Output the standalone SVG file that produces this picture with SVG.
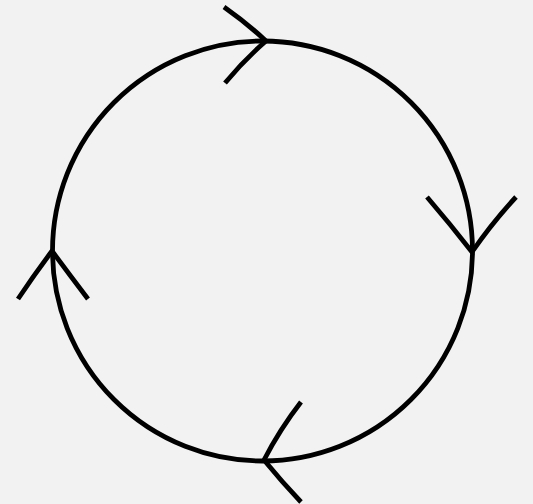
<svg xmlns="http://www.w3.org/2000/svg" width="533" height="504" viewBox="0 0 533 504">
<style>
.s{fill:none;stroke:#000;stroke-width:4.8;stroke-linejoin:round}
</style>
<rect width="533" height="504" fill="#f2f2f2"/>
<g id="cycle">
<circle class="s" cx="262.5" cy="251" r="210"/>
</g>
<g id="connectors">
<path class="s" d="M224,7 Q248,24 266,41 Q244,60 225,83"/>
<path class="s" d="M427,197 Q451,225 472,252 Q492,223 516,197"/>
<path class="s" d="M301,402 Q280,429 264,460 Q282,482 301,502"/>
<path class="s" d="M18,299 Q34,275 52,251 Q69,274 88,299"/>
</g>
</svg>
